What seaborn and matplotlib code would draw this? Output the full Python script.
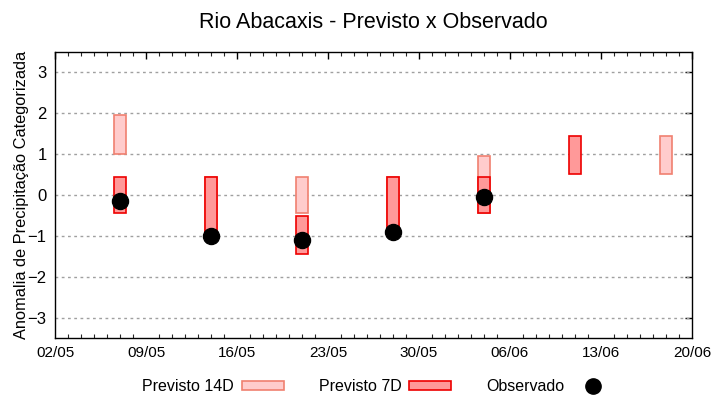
import matplotlib
matplotlib.use("Agg")
import matplotlib.pyplot as plt
import matplotlib.dates as mdates
from matplotlib.patches import Patch
from matplotlib.lines import Line2D
import seaborn as sns
import pandas as pd
import numpy as np

# ---- data ----
dates_14d = ["2023-05-07", "2023-05-14", "2023-05-21", "2023-05-28", "2023-06-04", "2023-06-18"]
low_14d = [1.0, -1.0, -0.45, -0.9, -0.45, 0.5]
high_14d = [1.95, 0.43, 0.43, 0.43, 0.95, 1.44]

dates_7d = ["2023-05-07", "2023-05-14", "2023-05-21", "2023-05-28", "2023-06-04", "2023-06-11"]
low_7d = [-0.45, -1.0, -1.45, -0.9, -0.45, 0.5]
high_7d = [0.43, 0.43, -0.53, 0.43, 0.43, 1.44]

dates_obs = ["2023-05-07", "2023-05-14", "2023-05-21", "2023-05-28", "2023-06-04"]
obs = [-0.15, -1.0, -1.1, -0.91, -0.06]

xtick_dates = ["2023-05-02", "2023-05-09", "2023-05-16", "2023-05-23", "2023-05-30",
               "2023-06-06", "2023-06-13", "2023-06-20"]
yticks = [-3, -2, -1, 0, 1, 2, 3]

sns.set_theme(style="white")
plt.rcParams['font.family'] = ['Liberation Sans', 'DejaVu Sans']
plt.rcParams['text.color'] = 'black'
plt.rcParams['axes.labelcolor'] = 'black'

fig = plt.figure(figsize=(7.2, 4.0), dpi=100)
ax = fig.add_axes([0.0764, 0.155, 0.8847, 0.716])

c14_face, c14_edge = "#ffcccc", "#f08070"
c7_face, c7_edge = "#ff9999", "#ee0000"

d14 = pd.to_datetime(dates_14d)
d7 = pd.to_datetime(dates_7d)
dobs = pd.to_datetime(dates_obs)

w = 0.95
ax.bar(d14, np.array(high_14d) - np.array(low_14d), bottom=low_14d, width=w,
       color=c14_face, edgecolor=c14_edge, linewidth=1.2, zorder=2)
ax.bar(d7, np.array(high_7d) - np.array(low_7d), bottom=low_7d, width=w,
       color=c7_face, edgecolor=c7_edge, linewidth=1.2, zorder=3)

df_obs = pd.DataFrame({"date": dobs, "obs": obs})
sns.scatterplot(data=df_obs, x="date", y="obs", ax=ax, color="black", s=135,
                marker="o", edgecolor="black", zorder=5, legend=False)

ax.set_ylim(-3.5, 3.5)
ax.set_xlim(pd.Timestamp(xtick_dates[0]), pd.Timestamp(xtick_dates[-1]))
ax.set_yticks(yticks)
ax.set_xticks(pd.to_datetime(xtick_dates))
ax.xaxis.set_major_formatter(mdates.DateFormatter("%d/%m"))
ax.xaxis.set_minor_locator(mdates.DayLocator())
for y in yticks:
    ax.axhline(y, color="#a0a0a0", linestyle=(0, (2, 2.5)), linewidth=1.0, zorder=1)

ax.tick_params(axis="both", which="major", direction="in", length=5, width=1,
               top=True, right=True, labelsize=10.5, colors="black", pad=6)
ax.tick_params(axis="x", which="minor", direction="in", length=3, width=0.8,
               top=True, bottom=True)
for lab in ax.get_xticklabels():
    lab.set_fontsize(11)
for lab in ax.get_yticklabels():
    lab.set_fontsize(12)
for s in ax.spines.values():
    s.set_color("black")
    s.set_linewidth(1.0)
ax.set_xlabel("")
ax.set_ylabel("Anomalia de Precipitação Categorizada", fontsize=11.8, labelpad=-1)
ax.set_title("Rio Abacaxis - Previsto x Observado", fontsize=15.5, pad=17)

handles = [Patch(facecolor=c14_face, edgecolor=c14_edge, linewidth=1.2),
           Patch(facecolor=c7_face, edgecolor=c7_edge, linewidth=1.2),
           Line2D([], [], linestyle="none", marker="o", markersize=11, color="black")]
labels = ["Previsto 14D", "Previsto 7D", "Observado"]
fig.legend(handles, labels, loc="center", bbox_to_anchor=(0.525, 0.033), ncol=3,
           markerfirst=False, frameon=False, fontsize=11.5, handlelength=2.6,
           handleheight=0.45, columnspacing=2.2, handletextpad=0.5)

fig.savefig("out.png", dpi=100)
